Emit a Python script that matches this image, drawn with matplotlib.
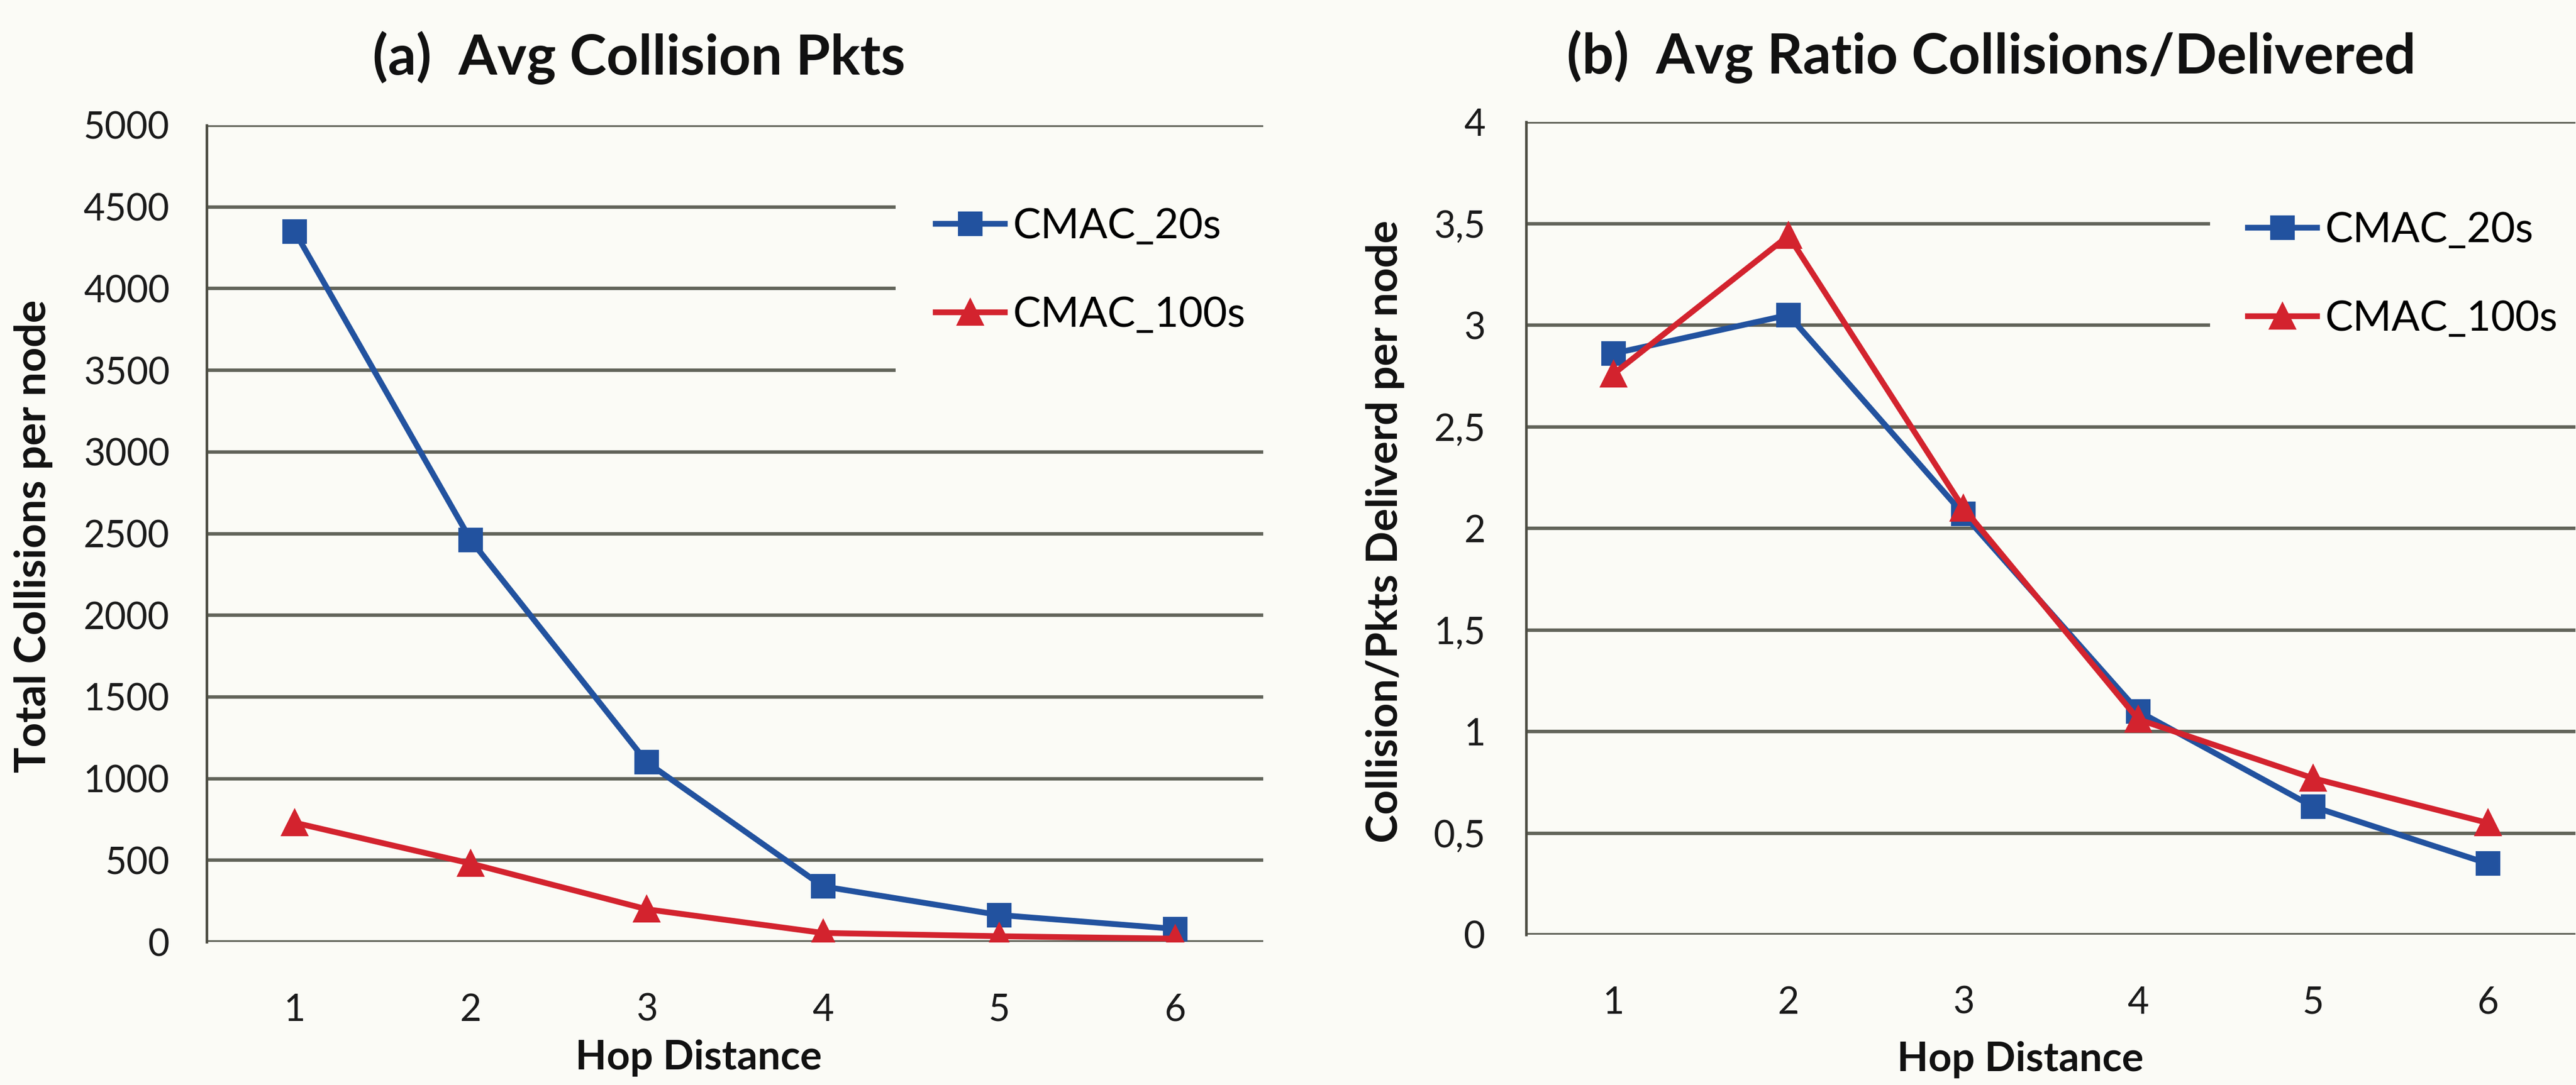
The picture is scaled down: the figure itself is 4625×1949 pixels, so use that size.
import matplotlib
matplotlib.use("Agg")
import matplotlib.pyplot as plt
from matplotlib.patches import Rectangle
from matplotlib.ticker import FixedLocator, FuncFormatter

# ---- data ----
hops = [1, 2, 3, 4, 5, 6]
hop_labels = ["1", "2", "3", "4", "5", "6"]
series_names = ["CMAC_20s", "CMAC_100s"]
collisions_20s = [4350, 2460, 1100, 340, 165, 80]
collisions_100s = [730, 480, 200, 55, 35, 20]
ratio_20s = [2.86, 3.05, 2.07, 1.10, 0.63, 0.35]
ratio_100s = [2.76, 3.44, 2.10, 1.06, 0.77, 0.55]
yticks_a = [0, 500, 1000, 1500, 2000, 2500, 3000, 3500, 4000, 4500, 5000]
yticks_b = [0, 0.5, 1, 1.5, 2, 2.5, 3, 3.5, 4]

W, H, DPI = 4625, 1949, 300
BG = "#fbfbf6"
BLUE = "#22529f"
RED = "#d3232e"
GRID = "#62645a"
FONT = "Lato"

plt.rcParams["font.family"] = [FONT, "DejaVu Sans"]

fig = plt.figure(figsize=(W / DPI, H / DPI), dpi=DPI, facecolor=BG)

def px_axes(x0, x1, ytop, ybot):
    return fig.add_axes([x0 / W, 1 - ybot / H, (x1 - x0) / W, (ybot - ytop) / H])

ax_a = px_axes(371, 2268, 225, 1692)
ax_b = px_axes(2740, 4624, 219, 1679)

def style(ax, yticks, fmt, ymax, cover, ypad):
    ax.set_facecolor(BG)
    ax.set_xlim(0.5, 6.5)
    ax.set_ylim(0, ymax)
    ax.yaxis.set_major_locator(FixedLocator(yticks))
    ax.yaxis.set_major_formatter(FuncFormatter(fmt))
    ax.set_xticks(hops)
    ax.set_xticklabels(hop_labels)
    for s in ["top", "right", "bottom"]:
        ax.spines[s].set_visible(False)
    ax.spines["left"].set_color("#4a4a40")
    ax.spines["left"].set_linewidth(1.1)
    ax.set_axisbelow(True)
    ax.grid(axis="y", color=GRID, linewidth=1.5)
    ax.tick_params(axis="both", length=0, labelsize=16, colors="#1a1a1a")
    ax.tick_params(axis="y", pad=ypad)
    ax.tick_params(axis="x", pad=22)
    # white area behind the legend hides part of the gridlines
    ax.add_patch(Rectangle((0.652, cover[0]), 0.36, cover[1] - cover[0],
                           transform=ax.get_yaxis_transform(), facecolor=BG,
                           edgecolor="none", zorder=1, clip_on=False))

style(ax_a, yticks_a, lambda v, p: f"{int(v)}", 5000, (3200, 4800), 16)
style(ax_b, yticks_b, lambda v, p: (f"{v:g}").replace(".", ","), 4, (2.75, 3.75), 17.5)

for ax, d1, d2 in [(ax_a, collisions_20s, collisions_100s), (ax_b, ratio_20s, ratio_100s)]:
    ax.plot(hops, d1, color=BLUE, lw=2.5, marker="s", ms=9.5, label=series_names[0], zorder=3)
    ax.plot(hops, d2, color=RED, lw=2.5, marker="^", ms=10.5, label=series_names[1], zorder=3)

leg_kw = dict(frameon=False, fontsize=18, loc="center left", borderpad=0, borderaxespad=0,
              handlelength=1.65, handletextpad=0.2, labelspacing=1.2)
ax_a.legend(bbox_to_anchor=(0.690, 0.822), **leg_kw)
ax_b.legend(bbox_to_anchor=(0.688, 0.812), **leg_kw)

# titles
fig.text(1147 / W, 1 - 134 / H, "(a)  Avg Collision Pkts", ha="center", va="baseline",
         fontsize=24, fontweight="bold", color="#111111")
fig.text(3575 / W, 1 - 132 / H, "(b)  Avg Ratio Collisions/Delivered", ha="center", va="baseline",
         fontsize=24, fontweight="bold", color="#111111")
# axis labels
fig.text(1254 / W, 1 - 1921 / H, "Hop Distance", ha="center", va="baseline",
         fontsize=17.5, fontweight="bold", color="#111111")
fig.text(3627 / W, 1 - 1924 / H, "Hop Distance", ha="center", va="baseline",
         fontsize=17.5, fontweight="bold", color="#111111")
fig.text(60 / W, 1 - 963 / H, "Total Collisions per node", ha="center", va="center",
         rotation=90, fontsize=18.5, fontweight="bold", color="#111111")
fig.text(2487 / W, 1 - 955 / H, "Collision/Pkts Deliverd per node", ha="center", va="center",
         rotation=90, fontsize=18.5, fontweight="bold", color="#111111")

fig.savefig("out.png", dpi=DPI, facecolor=BG)
